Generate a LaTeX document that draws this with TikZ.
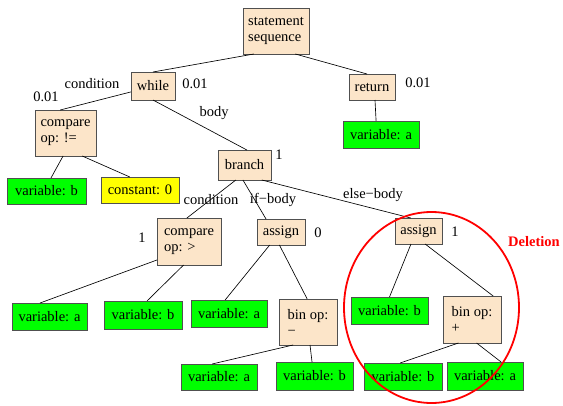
\documentclass[tikz,border=0pt]{standalone}
\usepackage{fontspec}
\setmainfont{Liberation Serif}
\definecolor{opfill}{HTML}{FCE5C9}
\definecolor{varfill}{HTML}{00FF00}
\definecolor{constfill}{HTML}{FFFF00}
\definecolor{boxline}{HTML}{505050}
\tikzset{
  astnode/.style={draw=boxline, line width=0.9pt, fill=opfill, align=left,
    inner sep=3pt, outer sep=0pt, font=\rmfamily\fontsize{14.5}{16}\selectfont},
  varnode/.style={astnode, fill=varfill, minimum width=76pt, minimum height=27pt},
  constnode/.style={astnode, fill=constfill, minimum width=78pt, minimum height=26pt},
  edgelbl/.style={inner sep=0pt, font=\rmfamily\fontsize{14.5}{16}\selectfont},
  astedge/.style={draw=black, line width=0.65pt}
}
\begin{document}
\begin{tikzpicture}[x=1pt,y=-1pt]
    \useasboundingbox (0,0) rectangle (563,405);

    % inner nodes
    \node[astnode, minimum width=66pt, minimum height=46pt] (stmt) at (276,31) {statement\\sequence};
    \node[astnode, minimum width=44pt, minimum height=28pt] (while) at (153,86) {while};
    \node[astnode, minimum width=46pt, minimum height=26pt] (ret) at (372,87) {return};
    \node[astnode, minimum width=61pt, minimum height=46pt] (cmpne) at (65.5,133) {compare\\op: !=};
    \node[astnode, minimum width=53pt, minimum height=30pt] (branch) at (244.5,165) {branch};
    \node[astnode, minimum width=64pt, minimum height=47pt] (cmpgt) at (189,241.5) {compare\\op: >};
    \node[astnode, minimum width=48pt, minimum height=26pt] (asgnif) at (281,232) {assign};
    \node[astnode, minimum width=47pt, minimum height=26pt] (asgnelse) at (418.5,231) {assign};
    \node[astnode, minimum width=58pt, minimum height=46pt] (binminus) at (308,322) {bin op:\\−};
    \node[astnode, minimum width=58pt, minimum height=47pt] (binplus) at (472,319.5) {bin op:\\+};

    % leaves
    \node[varnode] (retvar) at (381,134.5) {variable: a};
    \node[varnode, minimum width=79pt, minimum height=26pt] (cmpvarb) at (46.5,191) {variable: b};
    \node[constnode] (cmpconst) at (140,190) {constant: 0};
    \node[varnode, minimum width=75pt] (gtvara) at (49.5,316.5) {variable: a};
    \node[varnode, minimum width=78pt, minimum height=28pt] (gtvarb) at (143,315) {variable: b};
    \node[varnode] (ifvara) at (229,313.5) {variable: a};
    \node[varnode, minimum width=77pt] (elsevarb) at (389.5,310.5) {variable: b};
    \node[varnode, minimum height=26pt] (minusvara) at (219,377) {variable: a};
    \node[varnode, minimum width=77pt, minimum height=28pt] (minusvarb) at (314.5,376) {variable: b};
    \node[varnode, minimum width=78pt] (plusvarb) at (403,376.5) {variable: b};
    \node[varnode, minimum height=28pt] (plusvara) at (485,376) {variable: a};

    % edges
    \draw[astedge] (stmt.226) -- (while.north);
    \draw[astedge] (stmt.310) -- (ret.111);
    \draw[astedge] (while.195) -- (cmpne.103);
    \draw[astedge] (while.south) -- (branch.81);
    \draw[astedge] (ret.283) -- (retvar.110);
    \draw[astedge] (cmpne.264) -- (cmpvarb.71);
    \draw[astedge] (cmpne.306) -- (cmpconst.128);
    \draw[astedge] (branch.240) -- (cmpgt.95);
    \draw[astedge] (branch.264) -- (asgnif.139);
    \draw[astedge] (branch.319) -- (asgnelse.121);
    \draw[astedge] (cmpgt.210) -- (gtvara.125);
    \draw[astedge] (cmpgt.257) -- (gtvarb.74);
    \draw[astedge] (asgnif.229) -- (ifvara.106);
    \draw[astedge] (asgnif.263) -- (binminus.92);
    \draw[astedge] (asgnelse.240) -- (elsevarb.north);
    \draw[astedge] (asgnelse.297) -- (binplus.48);
    \draw[astedge] (binminus.237) -- (minusvara.118);
    \draw[astedge] (binminus.275) -- (minusvarb.100);
    \draw[astedge] (binplus.240) -- (plusvarb.102);
    \draw[astedge] (binplus.281) -- (plusvara.41);

    % edge labels and weights
    \node[edgelbl] (lblcond) at (92,84) {condition};
    \node[edgelbl] (wwhile) at (195,84) {0.01};
    \node[edgelbl] (wcmpne) at (46,97) {0.01};
    \node[edgelbl] (lblbody) at (214,113) {body};
    \node[edgelbl] (wbranch) at (279,155) {1};
    \node[edgelbl] (wret) at (418,83) {0.01};
    \node[edgelbl] (lblcondb) at (211,200) {condition};
    \node[edgelbl] (lblif) at (273,200) {if−body};
    \node[edgelbl] (lblelse) at (373,195) {else−body};
    \node[edgelbl] (wcmpgt) at (142,238) {1};
    \node[edgelbl] (wasgnif) at (318,233) {0};
    \node[edgelbl] (wasgnelse) at (455,232) {1};

    % deleted subtree
    \draw[red, line width=1.8pt] (431.5,307.5) ellipse [x radius=87.5, y radius=95.5];
    \node[edgelbl, text=red, font=\rmfamily\fontsize{14.5}{16}\selectfont\bfseries] (deltxt) at (534,242) {Deletion};
\end{tikzpicture}
\end{document}
